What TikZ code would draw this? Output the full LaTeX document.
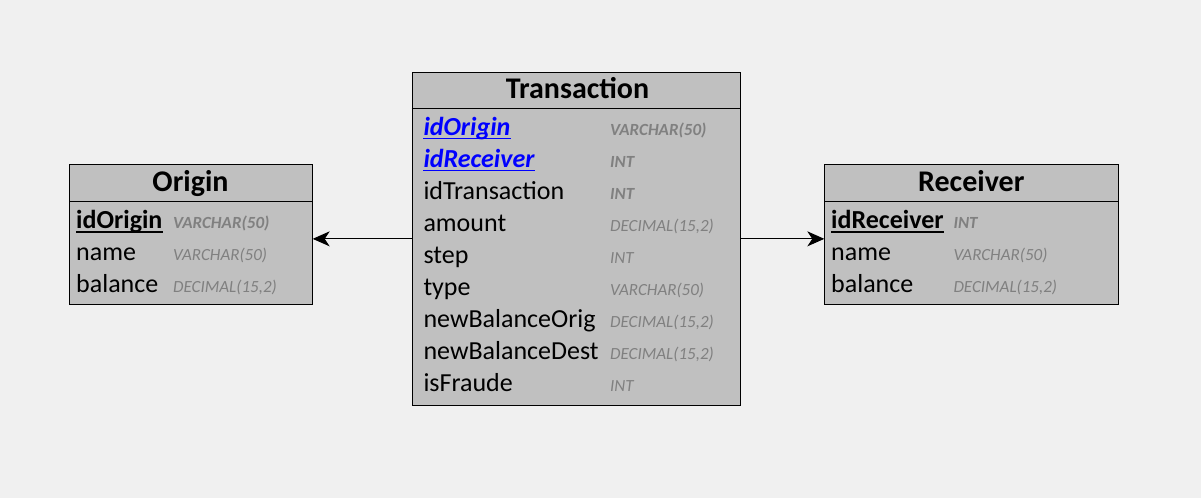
\documentclass[tikz,border=0pt]{standalone}
\usepackage{fontspec}
\setmainfont{Carlito}
\usetikzlibrary{arrows.meta}
\definecolor{bg}{HTML}{F0F0F0}
\definecolor{boxfill}{HTML}{C0C0C0}
\definecolor{typegray}{HTML}{808080}
\definecolor{fkblue}{HTML}{0000FF}
\tikzset{
  tbl/.style={draw=black, line width=1pt, fill=boxfill, rectangle, inner sep=0pt, anchor=north west},
  ttl/.style={font=\fontsize{30}{31}\selectfont\bfseries, inner sep=0pt, anchor=base},
  fld/.style={font=\fontsize{26}{27}\selectfont, inner sep=0pt, anchor=base west},
  pk/.style={fld, font=\fontsize{26}{27}\selectfont\bfseries},
  fk/.style={fld, font=\fontsize{26}{27}\selectfont\bfseries\itshape, text=fkblue},
  typ/.style={font=\fontsize{17}{18}\selectfont\itshape, text=typegray, inner sep=0pt, anchor=base west},
  btyp/.style={typ, font=\fontsize{17}{18}\selectfont\bfseries\itshape},
  sep/.style={line width=1pt},
  uline/.style={line width=1.6pt},
  rel/.style={line width=1pt, -{Stealth[length=17pt,width=15pt,inset=5pt]}}
}
\begin{document}
\begin{tikzpicture}[x=1pt,y=-1pt]
\fill[bg] (0,0) rectangle (1201,498);
\useasboundingbox (0,0) rectangle (1201,498);

% Origin
\node[tbl, minimum width=242.4pt, minimum height=140pt] (origin) at (69.3,164) {};
\draw[sep] (origin.west |- 0,201.7) -- (origin.east |- 0,201.7);
\node[ttl] (originT) at (190.5,191.7) {Origin};
\node[pk] (o1) at (76,228.3) {idOrigin};
\draw[uline] ([yshift=-3.5pt]o1.base west) -- ([yshift=-3.5pt]o1.base east);
\node[btyp] (o1t) at (173,228.3) {VARCHAR(50)};
\node[fld] (o2) at (76,260.3) {name};
\node[typ] (o2t) at (173,260.3) {VARCHAR(50)};
\node[fld] (o3) at (76,292.3) {balance};
\node[typ] (o3t) at (173,292.3) {DECIMAL(15,2)};

% Transaction
\node[tbl, minimum width=328.3pt, minimum height=333.3pt] (trans) at (411.7,71.7) {};
\draw[sep] (trans.west |- 0,108.3) -- (trans.east |- 0,108.3);
\node[ttl] (transT) at (577.5,98.3) {Transaction};
\node[fk] (t1) at (423.3,135) {idOrigin};
\draw[uline, fkblue] ([yshift=-3.5pt]t1.base west) -- ([yshift=-3.5pt]t1.base east);
\node[btyp] (t1t) at (610,135) {VARCHAR(50)};
\node[fk] (t2) at (423.3,167) {idReceiver};
\draw[uline, fkblue] ([yshift=-3.5pt]t2.base west) -- ([yshift=-3.5pt]t2.base east);
\node[btyp] (t2t) at (610,167) {INT};
\node[fld] (t3) at (423.3,199) {idTransaction};
\node[btyp] (t3t) at (610,199) {INT};
\node[fld] (t4) at (423.3,231) {amount};
\node[typ] (t4t) at (610,231) {DECIMAL(15,2)};
\node[fld] (t5) at (423.3,263) {step};
\node[typ] (t5t) at (610,263) {INT};
\node[fld] (t6) at (423.3,295) {type};
\node[typ] (t6t) at (610,295) {VARCHAR(50)};
\node[fld] (t7) at (423.3,327) {newBalanceOrig};
\node[typ] (t7t) at (610,327) {DECIMAL(15,2)};
\node[fld] (t8) at (423.3,359) {newBalanceDest};
\node[typ] (t8t) at (610,359) {DECIMAL(15,2)};
\node[fld] (t9) at (423.3,391) {isFraude};
\node[typ] (t9t) at (610,391) {INT};

% Receiver
\node[tbl, minimum width=294pt, minimum height=140pt] (recv) at (824.3,164) {};
\draw[sep] (recv.west |- 0,201.7) -- (recv.east |- 0,201.7);
\node[ttl] (recvT) at (971.3,191.7) {Receiver};
\node[pk] (r1) at (831,228.3) {idReceiver};
\draw[uline] ([yshift=-3.5pt]r1.base west) -- ([yshift=-3.5pt]r1.base east);
\node[btyp] (r1t) at (953.3,228.3) {INT};
\node[fld] (r2) at (831,260.3) {name};
\node[typ] (r2t) at (953.3,260.3) {VARCHAR(50)};
\node[fld] (r3) at (831,292.3) {balance};
\node[typ] (r3t) at (953.3,292.3) {DECIMAL(15,2)};

% Relations
\draw[rel] (trans.west) -- (origin.east |- trans.west);
\draw[rel] (trans.east) -- (recv.west |- trans.east);
\end{tikzpicture}
\end{document}
